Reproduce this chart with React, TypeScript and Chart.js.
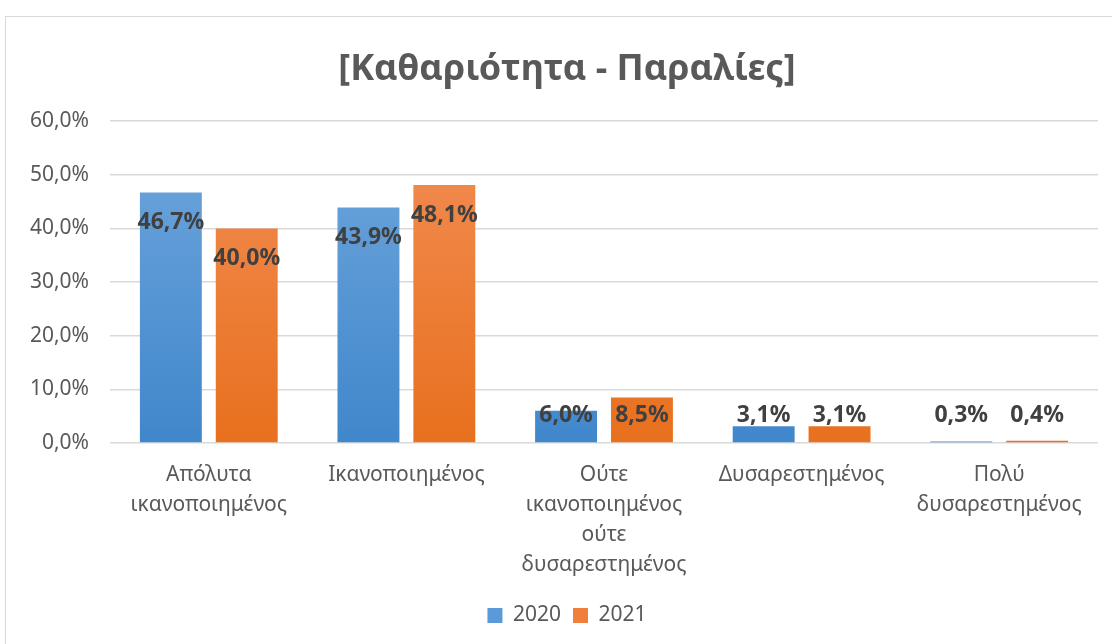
import React, { useEffect, useRef } from "react";
import { Chart, registerables } from "chart.js";

Chart.register(...registerables);

const TITLE = "[Καθαριότητα - Παραλίες]";
const categories: string[][] = [
  ["Απόλυτα", "ικανοποιημένος"],
  ["Ικανοποιημένος"],
  ["Ούτε", "ικανοποιημένος", "ούτε", "δυσαρεστημένος"],
  ["Δυσαρεστημένος"],
  ["Πολύ", "δυσαρεστημένος"],
];
const seriesNames = ["2020", "2021"];
const values2020 = [46.7, 43.9, 6.0, 3.1, 0.3];
const values2021 = [40.0, 48.1, 8.5, 3.1, 0.4];
const yTicks = [0, 10, 20, 30, 40, 50, 60];

const FONT = "'Noto Sans', 'Open Sans', sans-serif";
const fmt = (v: number) => v.toFixed(1).replace(".", ",") + "%";

function makeGradient(chart: any, top: string, bottom: string) {
  const area = chart.chartArea;
  if (!area) return top;
  const g = chart.ctx.createLinearGradient(0, area.top, 0, area.bottom);
  g.addColorStop(0, top);
  g.addColorStop(1, bottom);
  return g;
}

const labelPlugin = {
  id: "barLabels",
  afterDatasetsDraw(chart: any) {
    const ctx = chart.ctx;
    const yScale = chart.scales.y;
    const zeroY = yScale.getPixelForValue(0);
    ctx.save();
    ctx.font = `bold 23px ${FONT}`;
    ctx.fillStyle = "#404040";
    ctx.textAlign = "center";
    ctx.textBaseline = "middle";
    chart.data.datasets.forEach((ds: any, di: number) => {
      const meta = chart.getDatasetMeta(di);
      meta.data.forEach((bar: any, i: number) => {
        const y = Math.min(bar.y + 30, zeroY - 28);
        ctx.fillText(fmt(ds.data[i]), bar.x, y);
      });
    });
    ctx.restore();
  },
};

export default function App() {
  const ref = useRef<HTMLCanvasElement | null>(null);
  useEffect(() => {
    document.body.style.margin = "0";
    document.body.style.overflow = "hidden";
    const canvas = ref.current!;
    const chart = new Chart(canvas, {
      type: "bar",
      data: {
        labels: categories,
        datasets: [
          {
            label: seriesNames[0],
            data: values2020,
            backgroundColor: (c: any) => makeGradient(c.chart, "#70a7dd", "#4087cb"),
            borderWidth: 0,
            categoryPercentage: 0.768,
            barPercentage: 0.816,
          },
          {
            label: seriesNames[1],
            data: values2021,
            backgroundColor: (c: any) => makeGradient(c.chart, "#f28e55", "#e8701e"),
            borderWidth: 0,
            categoryPercentage: 0.768,
            barPercentage: 0.816,
          },
        ],
      },
      options: {
        responsive: false,
        animation: false,
        devicePixelRatio: 1,
        layout: { padding: { top: 0, left: 0, right: 0, bottom: 8 } },
        plugins: {
          title: {
            display: true,
            text: TITLE,
            color: "#595959",
            font: { family: FONT, size: 36, weight: "bold" },
            padding: { top: 31, bottom: 30 },
          },
          legend: {
            position: "bottom",
            labels: {
              color: "#595959",
              font: { family: FONT, size: 21 },
              boxWidth: 15,
              boxHeight: 15,
              padding: 12,
              generateLabels: (chart: any) =>
                chart.data.datasets.map((ds: any, i: number) => ({
                  text: ds.label,
                  fillStyle: i === 0 ? "#5a9ad8" : "#f07f3c",
                  strokeStyle: "transparent",
                  lineWidth: 0,
                  fontColor: "#595959",
                  datasetIndex: i,
                  hidden: false,
                })),
            },
          },
          tooltip: { enabled: false },
        },
        scales: {
          x: {
            grid: { display: false },
            border: { display: false },
            ticks: {
              color: "#595959",
              font: { family: FONT, size: 21, lineHeight: 1.43 },
              padding: 9,
              maxRotation: 0,
              autoSkip: false,
            },
            afterFit: (s: any) => {
              s.height = 150;
            },
          },
          y: {
            min: 0,
            max: 60,
            afterBuildTicks: (s: any) => {
              s.ticks = yTicks.map((v) => ({ value: v }));
            },
            grid: { color: "#d9d9d9", lineWidth: 1.5, drawTicks: false },
            border: { display: false },
            ticks: {
              color: "#595959",
              font: { family: FONT, size: 21 },
              padding: 21,
              callback: (v: any) => fmt(Number(v)),
            },
            afterFit: (s: any) => {
              s.width = 104;
            },
          },
          yRight: {
            position: "right",
            display: true,
            grid: { display: false, drawTicks: false },
            border: { display: false },
            ticks: { display: false },
            afterFit: (s: any) => {
              s.width = 30;
            },
          },
        },
      },
      plugins: [labelPlugin],
    });
    return () => chart.destroy();
  }, []);
  return (
    <div
      style={{
        position: "absolute",
        left: 5,
        top: 16,
        width: 1123,
        height: 628,
        borderTop: "1px solid #d9d9d9",
        borderLeft: "1px solid #d9d9d9",
        background: "#fff",
      }}
    >
      <canvas ref={ref} width={1122} height={627} style={{ display: "block" }} />
    </div>
  );
}
